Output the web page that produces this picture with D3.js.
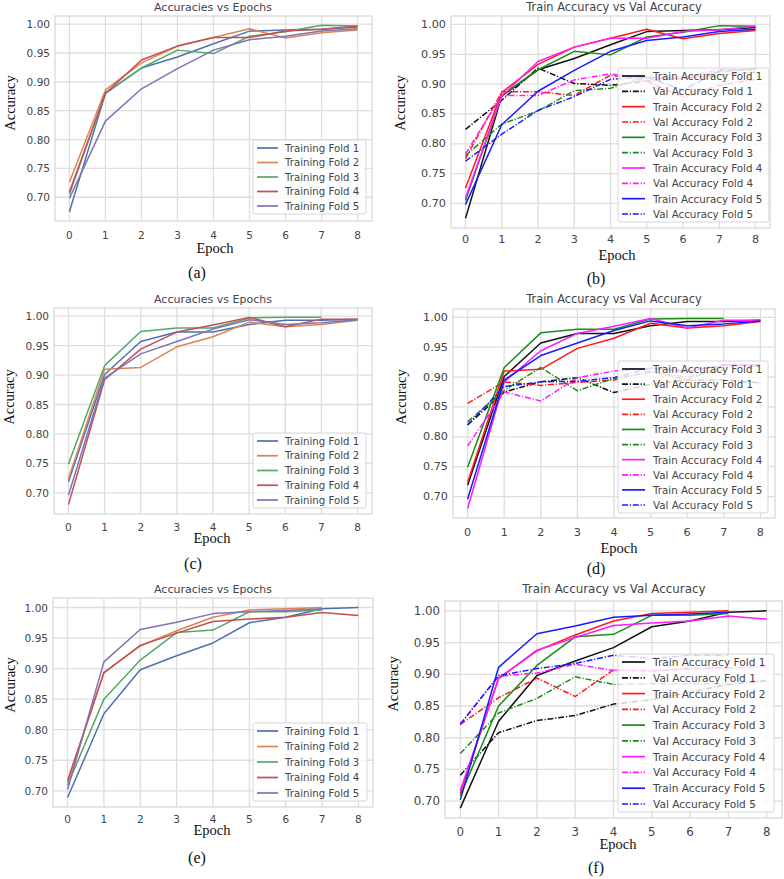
<!DOCTYPE html>
<html>
<head>
<meta charset="utf-8">
<script src="https://cdn.jsdelivr.net/npm/d3@7"></script>
<style>
  body { margin: 0; background: #fff; }
  svg { display: block; }
</style>
</head>
<body>
<div id="chart"></div>
<script>
// epochs and ticks
const epochs = [0, 1, 2, 3, 4, 5, 6, 7, 8];
const folds = ["Fold 1", "Fold 2", "Fold 3", "Fold 4", "Fold 5"];
const yTicks = [0.70, 0.75, 0.80, 0.85, 0.90, 0.95, 1.00];

// run 1 -> panels (a) and (b)
const train1 = [
  [0.675, 0.880, 0.924, 0.943, 0.966, 0.988, 0.990, 0.991, 0.995],
  [0.726, 0.886, 0.933, 0.962, 0.977, 0.992, 0.976, 0.985, 0.990],
  [0.705, 0.881, 0.924, 0.955, 0.949, 0.979, 0.987, 0.998, 0.997],
  [0.709, 0.880, 0.938, 0.962, 0.977, 0.977, 0.988, 0.991, 0.997],
  [0.698, 0.832, 0.888, 0.923, 0.955, 0.973, 0.979, 0.988, 0.992]
];
const val1 = [
  [0.824, 0.873, 0.927, 0.901, 0.898, 0.905, 0.910, 0.915, 0.920],
  [0.775, 0.887, 0.887, 0.881, 0.915, 0.905, 0.878, 0.898, 0.908],
  [0.780, 0.833, 0.855, 0.889, 0.893, 0.912, 0.910, 0.920, 0.925],
  [0.783, 0.881, 0.881, 0.907, 0.917, 0.910, 0.910, 0.925, 0.925],
  [0.771, 0.816, 0.856, 0.879, 0.908, 0.912, 0.890, 0.922, 0.925]
];

// run 2 -> panels (c) and (d)
const train2 = [
  [0.719, 0.901, 0.957, 0.973, 0.973, 0.986, 0.993, 0.993, 0.995],
  [0.724, 0.910, 0.913, 0.948, 0.965, 0.990, 0.982, 0.986, 0.993],
  [0.749, 0.916, 0.974, 0.980, 0.980, 0.997, 0.998, 0.998],
  [0.680, 0.892, 0.944, 0.973, 0.985, 0.998, 0.982, 0.995, 0.995],
  [0.696, 0.895, 0.936, 0.957, 0.978, 0.994, 0.986, 0.989, 0.994]
];
const val2 = [
  [0.820, 0.875, 0.892, 0.899, 0.874, 0.888, 0.895, 0.895, 0.890],
  [0.856, 0.892, 0.886, 0.891, 0.895, 0.910, 0.895, 0.920, 0.918],
  [0.825, 0.878, 0.916, 0.877, 0.898, 0.908, 0.900, 0.912],
  [0.785, 0.875, 0.860, 0.899, 0.910, 0.915, 0.908, 0.920, 0.920],
  [0.820, 0.884, 0.892, 0.893, 0.899, 0.915, 0.910, 0.920, 0.920]
];

// run 3 -> panels (e) and (f)
const train3 = [
  [0.689, 0.826, 0.898, 0.921, 0.942, 0.975, 0.984, 0.998, 1.000],
  [0.713, 0.894, 0.937, 0.962, 0.984, 0.996, 0.998, 1.000],
  [0.709, 0.850, 0.914, 0.959, 0.963, 0.993, 0.993, 0.996],
  [0.717, 0.893, 0.938, 0.958, 0.977, 0.981, 0.984, 0.992, 0.987],
  [0.702, 0.911, 0.964, 0.976, 0.990, 0.993, 0.995, 0.998]
];
const val3 = [
  [0.741, 0.808, 0.827, 0.835, 0.853, 0.860, 0.872, 0.884, 0.890],
  [0.821, 0.863, 0.894, 0.865, 0.907, 0.905, 0.910, 0.910],
  [0.775, 0.839, 0.862, 0.896, 0.884, 0.885, 0.885, 0.885],
  [0.822, 0.897, 0.902, 0.916, 0.906, 0.906, 0.908, 0.910, 0.912],
  [0.821, 0.898, 0.909, 0.917, 0.930, 0.925, 0.930, 0.930]
];

const deepColors = ["#4c72b0", "#dd8452", "#55a868", "#c44e52", "#8172b3"];
const plainColors = ["#111111", "#ff1a1a", "#1a8c1a", "#ff1aff", "#1a1aff"];

// layout of the six panels (pixel boxes of each axes frame)
const panels = [
  {cap: "(a)", train: train1, val: null, frame: [55, 16, 372, 221], titleY: 7, titleX: 213,
   tickY: 235, epochX: 215, epochY: 248, capX: 197, capY: 272, accX: 10, accY: 103,
   legend: [253, 140, 366, 214], fs: {tick: 10.5, title: 11, leg: 10.2}},
  {cap: "(b)", train: train1, val: val1, frame: [451, 16, 770, 228], titleY: 7, titleX: 614,
   tickY: 239, epochX: 617, epochY: 255, capX: 596, capY: 278, accX: 400, accY: 103,
   legend: [618, 68, 769, 222], fs: {tick: 11.2, title: 11.4, leg: 10.3}},
  {cap: "(c)", train: train2, val: null, frame: [54, 308, 372, 514], titleY: 299, titleX: 213,
   tickY: 527, epochX: 212, epochY: 538, capX: 193, capY: 563, accX: 9, accY: 397,
   legend: [253, 433, 366, 508], fs: {tick: 10.5, title: 11, leg: 10.2}},
  {cap: "(d)", train: train2, val: val2, frame: [453, 309, 775, 518], titleY: 299, titleX: 614,
   tickY: 532, epochX: 619, epochY: 548, capX: 596, capY: 568, accX: 401, accY: 397,
   legend: [618, 361, 768, 513], fs: {tick: 11.2, title: 11.4, leg: 10.3}},
  {cap: "(e)", train: train3, val: null, frame: [53, 598, 373, 807], titleY: 589, titleX: 213,
   tickY: 819, epochX: 212, epochY: 830, capX: 197, capY: 857, accX: 10, accY: 685,
   legend: [253, 723, 367, 801], fs: {tick: 10.5, title: 11, leg: 10.2}},
  {cap: "(f)", train: train3, val: val3, frame: [445, 601, 782, 818], titleY: 589, titleX: 614,
   tickY: 832, epochX: 618, epochY: 844, capX: 596, capY: 867, accX: 393, accY: 684,
   legend: [618, 654, 774, 812], fs: {tick: 11.8, title: 11.9, leg: 10.6}}
];

const W = 784, H = 879;
const sans = "'DejaVu Sans', sans-serif";
const serif = "'Liberation Serif', 'Times New Roman', serif";
const textGray = "#444";
const gridColor = "#dedede";

const svg = d3.select("#chart").append("svg")
    .attr("width", W)
    .attr("height", H);

svg.append("rect").attr("width", W).attr("height", H).attr("fill", "#fff");

panels.forEach(p => {
  const [x0, y0, x1, y1] = p.frame;
  const isVal = p.val !== null;

  // matplotlib-like autoscale: 5% margins around data
  const all = p.train.flat().concat(isVal ? p.val.flat() : []);
  const lo = d3.min(all), hi = d3.max(all), pad = (hi - lo) * 0.05;

  const x = d3.scaleLinear().domain([-0.4, 8.4]).range([x0, x1]);
  const y = d3.scaleLinear().domain([lo - pad, hi + pad]).range([y1, y0]);

  const g = svg.append("g");

  // grid
  g.append("g").selectAll("line").data(epochs).join("line")
      .attr("x1", d => x(d)).attr("x2", d => x(d))
      .attr("y1", y0).attr("y2", y1)
      .attr("stroke", gridColor).attr("stroke-width", 1.3);
  g.append("g").selectAll("line").data(yTicks).join("line")
      .attr("x1", x0).attr("x2", x1)
      .attr("y1", d => y(d)).attr("y2", d => y(d))
      .attr("stroke", gridColor).attr("stroke-width", 1.3);

  // tick labels
  g.append("g").selectAll("text").data(epochs).join("text")
      .attr("x", d => x(d)).attr("y", p.tickY)
      .attr("text-anchor", "middle").attr("dominant-baseline", "central")
      .attr("font-family", sans).attr("font-size", p.fs.tick).attr("fill", textGray)
      .text(d => d);
  g.append("g").selectAll("text").data(yTicks).join("text")
      .attr("x", x0 - 5).attr("y", d => y(d))
      .attr("text-anchor", "end").attr("dominant-baseline", "central")
      .attr("font-family", sans).attr("font-size", p.fs.tick).attr("fill", textGray)
      .text(d => d3.format(".2f")(d));

  // lines
  const line = d3.line().x((d, i) => x(epochs[i])).y(d => y(d));
  const series = [];
  p.train.forEach((vals, k) => {
    if (isVal) {
      series.push({vals, color: plainColors[k], dash: null, label: "Train Accuracy " + folds[k]});
      series.push({vals: p.val[k], color: plainColors[k], dash: "6,1.8,1.2,1.8", label: "Val Accuracy " + folds[k]});
    } else {
      series.push({vals, color: deepColors[k], dash: null, label: "Training " + folds[k]});
    }
  });

  g.append("g").selectAll("path").data(series).join("path")
      .attr("d", d => line(d.vals))
      .attr("fill", "none")
      .attr("stroke", d => d.color)
      .attr("stroke-width", 1.5)
      .attr("stroke-dasharray", d => d.dash)
      .attr("stroke-linejoin", "round");

  // legend
  const [lx0, ly0, lx1, ly1] = p.legend;
  const leg = g.append("g");
  leg.append("rect")
      .attr("x", lx0).attr("y", ly0).attr("width", lx1 - lx0).attr("height", ly1 - ly0)
      .attr("rx", 2).attr("fill", "#fff").attr("fill-opacity", 0.8)
      .attr("stroke", "#d6d6d6").attr("stroke-width", 1);
  const rowH = (ly1 - ly0 - 16) / (series.length - 1);
  const lineEnd = isVal ? 27 : 25, textStart = isVal ? 35 : 32;
  const rows = leg.selectAll("g").data(series).join("g")
      .attr("transform", (d, i) => `translate(${lx0},${ly0 + 8 + i * rowH})`);
  rows.append("line")
      .attr("x1", 4).attr("x2", lineEnd)
      .attr("stroke", d => d.color).attr("stroke-width", 1.7)
      .attr("stroke-dasharray", d => d.dash);
  rows.append("text")
      .attr("x", textStart).attr("dominant-baseline", "central")
      .attr("font-family", sans).attr("font-size", p.fs.leg).attr("fill", textGray)
      .text(d => d.label);

  // frame
  g.append("rect")
      .attr("x", x0).attr("y", y0).attr("width", x1 - x0).attr("height", y1 - y0)
      .attr("fill", "none").attr("stroke", "#d9d9d9").attr("stroke-width", 1.3);

  // title and labels
  g.append("text")
      .attr("x", p.titleX).attr("y", p.titleY)
      .attr("text-anchor", "middle").attr("dominant-baseline", "central")
      .attr("font-family", sans).attr("font-size", p.fs.title).attr("fill", textGray)
      .text(isVal ? "Train Accuracy vs Val Accuracy" : "Accuracies vs Epochs");
  g.append("text")
      .attr("x", p.epochX).attr("y", p.epochY)
      .attr("text-anchor", "middle").attr("dominant-baseline", "central")
      .attr("font-family", serif).attr("font-size", 14.5).attr("fill", "#111")
      .text("Epoch");
  g.append("text")
      .attr("transform", `translate(${p.accX},${p.accY}) rotate(-90)`)
      .attr("text-anchor", "middle").attr("dominant-baseline", "central")
      .attr("font-family", serif).attr("font-size", 14.5).attr("fill", "#111")
      .text("Accuracy");
  g.append("text")
      .attr("x", p.capX).attr("y", p.capY)
      .attr("text-anchor", "middle").attr("dominant-baseline", "central")
      .attr("font-family", serif).attr("font-size", 16).attr("fill", "#111")
      .text(p.cap);
});
</script>
</body>
</html>
